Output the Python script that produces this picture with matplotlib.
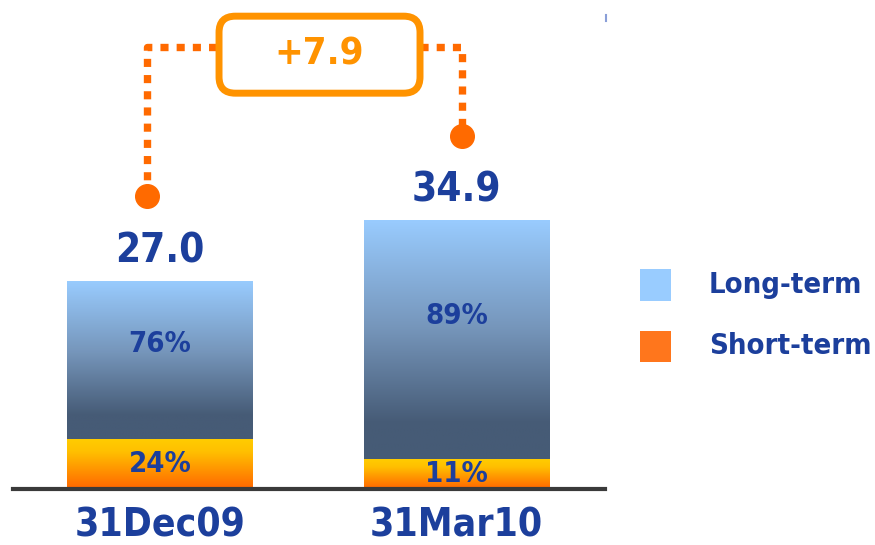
import numpy as np
import matplotlib
matplotlib.use("Agg")
import matplotlib.pyplot as plt
from matplotlib.colors import LinearSegmentedColormap
from matplotlib.patches import FancyBboxPatch, Rectangle

# Debt structure (total, with long-/short-term split in %)
categories = ["31Dec09", "31Mar10"]
totals = [27.0, 34.9]
long_term_pct = [76, 89]
short_term_pct = [24, 11]
change_label = "+7.9"
series_names = ["Long-term", "Short-term"]

NAVY = "#1c3f9c"
ORANGE_BOX = "#ff9300"
ORANGE_DOT = "#ff6a00"
FONT = dict(family="DejaVu Sans", fontstretch="condensed", fontweight="bold")

W, H = 875, 545
fig = plt.figure(figsize=(W / 100, H / 100), dpi=100)
ax = fig.add_axes([13 / W, 56 / H, 592 / W, 489 / H])
ax.set_xlim(-0.496, 1.501)
ax.set_ylim(0, 63.5)
ax.axis("off")

x = np.arange(len(categories))
short_vals = [t * p / 100 for t, p in zip(totals, short_term_pct)]
long_vals = [t * p / 100 for t, p in zip(totals, long_term_pct)]

width = 0.627
short_bars = ax.bar(x, short_vals, width=width, color="none", linewidth=0)
long_bars = ax.bar(x, long_vals, width=width, bottom=short_vals, color="none", linewidth=0)

long_cmap = LinearSegmentedColormap.from_list(
    "lt", [(0.0, "#99ccff"), (0.45, "#7696bb"), (0.85, "#465b76"), (1.0, "#465b76")])
short_cmap = LinearSegmentedColormap.from_list(
    "st", [(0.0, "#ffcc00"), (0.25, "#ffc000"), (1.0, "#ff6600")])


def fill_gradient(bars, cmap):
    for b in bars:
        x0, y0 = b.get_x(), b.get_y()
        w, h = b.get_width(), b.get_height()
        grad = np.linspace(0, 1, 256).reshape(-1, 1)
        im = ax.imshow(grad, cmap=cmap, aspect="auto", origin="upper",
                       extent=(x0, x0 + w, y0, y0 + h), zorder=1,
                       interpolation="bilinear")
        im.set_clip_path(b)


fill_gradient(short_bars, short_cmap)
fill_gradient(long_bars, long_cmap)
ax.set_xlim(-0.496, 1.501)
ax.set_ylim(0, 63.5)

# baseline
ax.axhline(0, color="#3a3a3a", lw=3, zorder=3, clip_on=False)

# totals above bars
for xi, t in zip(x, totals):
    ax.annotate(f"{t:.1f}", (xi, t), xytext=(0, 13.7), textcoords="offset points",
                ha="center", va="baseline", color=NAVY, fontsize=29, **FONT)

# percentages inside segments
for xi, s, l, ps, pl in zip(x, short_vals, long_vals, short_term_pct, long_term_pct):
    ax.text(xi, s / 2, f"{ps}%", ha="center", va="center", color=NAVY,
            fontsize=21, zorder=4, **FONT)
    ax.text(xi, s + l * 0.6, f"{pl}%", ha="center", va="center", color=NAVY,
            fontsize=21, zorder=4, **FONT)

# category labels
for xi, c in zip(x, categories):
    ax.text(xi, -7.2, c, ha="center", va="bottom", color=NAVY,
            fontsize=28, clip_on=False, **FONT)

# change connector
dot_y = [t + 11.0 for t in totals]
x_left, x_right = -0.045, 1.02
top_y = 57.4
box_x0, box_x1 = 0.199, 0.877
box_y0, box_y1 = 51.4, 61.4
dash = dict(color=ORANGE_DOT, lw=5.3, dashes=(1.1, 1.1), dash_capstyle="butt",
            solid_capstyle="butt", clip_on=False, zorder=2)
ax.plot([x_left, x_left, box_x0], [dot_y[0], top_y, top_y], **dash)
ax.plot([box_x1, x_right, x_right], [top_y, top_y, dot_y[1]], **dash)
ax.plot([x_left, x_right], dot_y, linestyle="none", marker="o", markersize=17,
        color=ORANGE_DOT, clip_on=False, zorder=3)

xu, yu = 296.5, 7.70  # pixels per data unit
box = FancyBboxPatch((box_x0, box_y0), box_x1 - box_x0, box_y1 - box_y0,
                     boxstyle="round,pad=0,rounding_size=0.055",
                     mutation_aspect=xu / yu, fc="white", ec=ORANGE_BOX,
                     lw=5, clip_on=False, zorder=4)
ax.add_patch(box)
ax.text((box_x0 + box_x1) / 2, (box_y0 + box_y1) / 2, change_label, ha="center",
        va="center", color=ORANGE_BOX, fontsize=27.5, zorder=5, **FONT)

# small tick at top-right
fig.add_artist(plt.Line2D([605.5 / W, 605.5 / W], [1 - 15 / H, 1 - 21 / H],
                          color="#8a9fd8", lw=1.5))

# legend
leg_colors = ["#99ccff", "#ff761c"]
leg_y = [285, 346]
for name, col, yc in zip(series_names, leg_colors, leg_y):
    fig.add_artist(Rectangle((640 / W, 1 - (yc + 15.5) / H), 31 / W, 31 / H,
                             transform=fig.transFigure, fc=col, ec="none"))
    fig.text(709 / W, 1 - yc / H, name, ha="left", va="center", color=NAVY,
             fontsize=21, **FONT)

fig.savefig("out.png", dpi=100)
